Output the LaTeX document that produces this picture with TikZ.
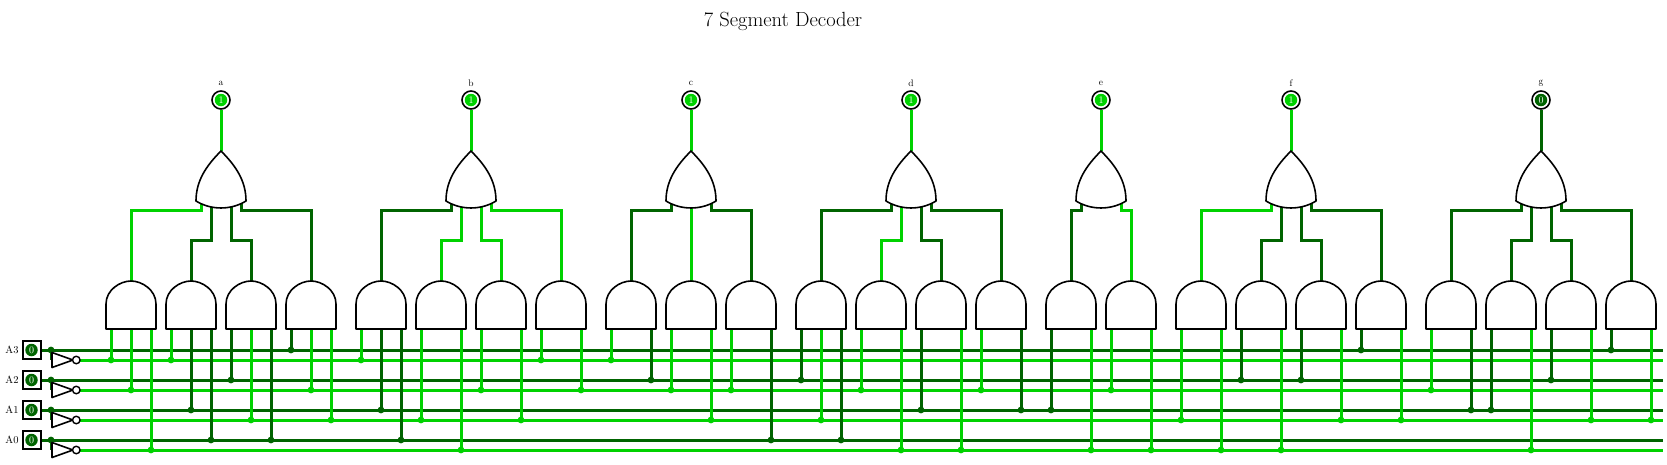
\documentclass[tikz,border=0pt]{standalone}
\definecolor{lit}{RGB}{0,210,0}
\definecolor{unlit}{RGB}{0,100,0}
\tikzset{
  x=1pt,y=-1pt,
  wire/.style={line width=3pt,line join=miter},
  gateline/.style={draw=black,line width=1.6pt,fill=white,line join=round},
  digit/.style={circle,inner sep=0pt,minimum size=12.5pt,text=white,font=\fontsize{10}{10}\selectfont},
  inbox/.style={draw=black,line width=2pt,fill=white,minimum size=18pt,inner sep=0pt},
  outring/.style={circle,draw=black,line width=1.6pt,fill=white,minimum size=18pt,inner sep=0pt},
  pinlabel/.style={inner sep=0pt,font=\fontsize{10.5}{11}\selectfont},
  toplabel/.style={inner sep=0pt,font=\fontsize{9.5}{10}\selectfont},
  bubble/.style={circle,draw=black,line width=1.4pt,fill=white,minimum size=7.5pt,inner sep=0pt},
}
\begin{document}
\begin{tikzpicture}
\useasboundingbox (0,0) rectangle (1667,464);
\node[inner sep=0pt,font=\fontsize{20.5}{22}\selectfont] (title) at (783,21) {7 Segment Decoder};

% bus rails
\foreach \n/\y in {3/350,2/380,1/410,0/440}{
  \coordinate (A\n) at (41,\y);
  \coordinate (J\n) at (51,\y);
  \coordinate (N\n) at (80,\y+10);
  \coordinate (EA\n) at (1663,\y);
  \coordinate (EN\n) at (1663,\y+10);
  \coordinate (S\n) at (51,\y+10);
}
\coordinate (lowY) at (0,210);
\coordinate (highY) at (0,240);

% gate anchor points
\foreach \c in {131,191,251,311,381,441,501,561,631,691,751,821,881,941,1001,1071,1131,1201,1261,1321,1381,1451,1511,1571,1631}{
  \coordinate (g\c) at (\c,329);
  \coordinate (t\c) at (\c,281);
}
\foreach \c in {221,471,691,911,1101,1291,1541}{
  \coordinate (o\c) at (\c,194);
  \coordinate (tip\c) at (\c,151);
}

% rails
\foreach \n in {3,2,1,0}{
  \draw[wire,unlit] (A\n) -- (EA\n);
  \draw[wire,lit] (N\n) -- (EN\n);
}

% AND inputs: gate / offset / rail / colour
\foreach \c/\off/\bus/\st in {
 131/-20/N3/lit,131/0/N2/lit,131/20/N0/lit,
 191/-20/N3/lit,191/0/A1/unlit,191/20/A0/unlit,
 251/-20/A2/unlit,251/0/N1/lit,251/20/A0/unlit,
 311/-20/A3/unlit,311/0/N2/lit,311/20/N1/lit,
 381/-20/N3/lit,381/0/A1/unlit,381/20/A0/unlit,
 441/-20/N1/lit,441/20/N0/lit,
 501/-20/N2/lit,501/20/N1/lit,
 561/-20/N3/lit,561/20/N2/lit,
 631/-20/N3/lit,631/20/A2/unlit,
 691/-20/N2/lit,691/20/N1/lit,
 751/-20/N2/lit,751/20/A0/unlit,
 821/-20/A2/unlit,821/0/N1/lit,821/20/A0/unlit,
 881/-20/N2/lit,881/20/N0/lit,
 941/-20/A1/unlit,941/20/N0/lit,
 1001/-20/N2/lit,1001/20/A1/unlit,
 1071/-20/A1/unlit,1071/20/N0/lit,
 1131/-20/N2/lit,1131/20/N0/lit,
 1201/-20/N1/lit,1201/20/N0/lit,
 1261/-20/A2/unlit,1261/20/N0/lit,
 1321/-20/A2/unlit,1321/20/N1/lit,
 1381/-20/A3/unlit,1381/20/N1/lit,
 1451/-20/N2/lit,1451/20/A1/unlit,
 1511/-20/A1/unlit,1511/20/N0/lit,
 1571/-20/A2/unlit,1571/20/N1/lit,
 1631/-20/A3/unlit,1631/20/N1/lit}{
  \coordinate (p) at ([xshift=\off pt]g\c);
  \draw[wire,\st] (p) -- (p |- \bus);
  \fill[\st] (p |- \bus) circle (3.4);
}

% AND outputs to OR inputs: or / offset / and / level / colour
\foreach \o/\off/\c/\lvl/\st in {
 221/-20/131/lowY/lit,221/-10/191/highY/unlit,221/10/251/highY/unlit,221/20/311/lowY/unlit,
 471/-20/381/lowY/unlit,471/-10/441/highY/lit,471/10/501/highY/lit,471/20/561/lowY/lit,
 691/-20/631/lowY/unlit,691/0/691/highY/lit,691/20/751/lowY/unlit,
 911/-20/821/lowY/unlit,911/-10/881/highY/lit,911/10/941/highY/unlit,911/20/1001/lowY/unlit,
 1101/-20/1071/lowY/unlit,1101/20/1131/lowY/lit,
 1291/-20/1201/lowY/lit,1291/-10/1261/highY/unlit,1291/10/1321/highY/unlit,1291/20/1381/lowY/unlit,
 1541/-20/1451/lowY/unlit,1541/-10/1511/highY/unlit,1541/10/1571/highY/unlit,1541/20/1631/lowY/unlit}{
  \coordinate (p) at ([xshift=\off pt]o\o);
  \draw[wire,\st] (p) -- (p |- \lvl) -| (t\c);
}

% AND gates
\foreach \c in {131,191,251,311,381,441,501,561,631,691,751,821,881,941,1001,1071,1131,1201,1261,1321,1381,1451,1511,1571,1631}{
  \draw[gateline] ([xshift=-25pt]g\c) -- ++(0,-25)
     .. controls +(0,-14) and +(-11,0) .. (t\c)
     .. controls +(11,0) and +(0,-14) .. ([xshift=25pt,yshift=25pt]g\c)
     -- ([xshift=25pt]g\c) -- cycle;
}

% OR gates and outputs: or / name / value / colour
\foreach \o/\lab/\val/\st in {221/a/1/lit,471/b/1/lit,691/c/1/lit,911/d/1/lit,1101/e/1/lit,1291/f/1/lit,1541/g/0/unlit}{
  \node[outring] (out\o) at (\o,100) {};
  \draw[wire,\st] (tip\o) -- (out\o.south);
  \node[digit,fill=\st] (val\o) at (out\o.center) {\val};
  \node[toplabel] (lab\o) at (\o,83) {\lab};
  \draw[gateline] (tip\o)
     .. controls +(-15,15) and +(0,-20) .. ([xshift=-25pt,yshift=-7pt]o\o)
     .. controls +(15,9.3) and +(-15,9.3) .. ([xshift=25pt,yshift=-7pt]o\o)
     .. controls +(0,-20) and +(15,15) .. (tip\o) -- cycle;
}

% input pins and inverters
\foreach \n/\y in {3/350,2/380,1/410,0/440}{
  \draw[wire,unlit] (J\n) -- (S\n);
  \fill[unlit] (J\n) circle (3.4);
  \draw[black,line width=1.6pt,fill=white,line join=round] (52,\y+2.5) -- (52,\y+17.5) -- (73,\y+10) -- cycle;
  \node[bubble] (inv\n) at (76.3,\y+10) {};
  \node[inbox] (pin\n) at (31.5,\y) {};
  \node[digit,fill=unlit] (val\n) at (pin\n.center) {0};
  \node[pinlabel] (name\n) at (12,\y) {A\n};
}
\end{tikzpicture}
\end{document}
